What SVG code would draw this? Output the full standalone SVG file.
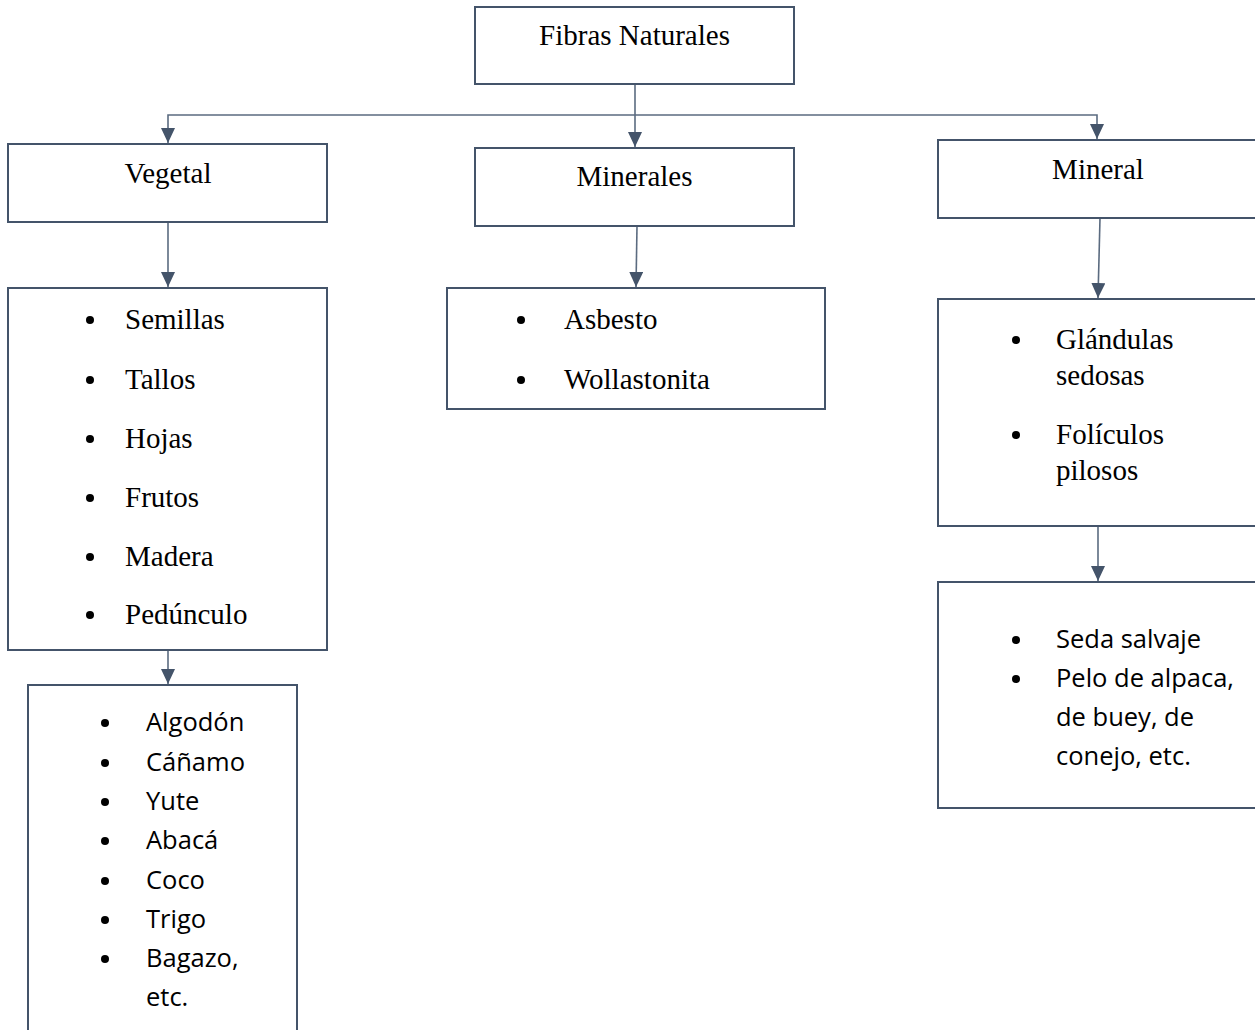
<svg xmlns="http://www.w3.org/2000/svg" width="1255" height="1030" viewBox="0 0 1255 1030">
<defs>
<style>
.box{fill:#fff;stroke:#44546A;stroke-width:2}
.t{font-family:"Liberation Serif","Times New Roman",serif;font-size:29px;fill:#000}
.c{font-family:"Open Sans","Liberation Sans",sans-serif;font-size:25.5px;fill:#000}
.con{fill:none;stroke:#5B6B80;stroke-width:1.6}
.dot{fill:#000}
</style>
<marker id="ah" viewBox="0 0 15 14" refX="15" refY="7" markerWidth="15" markerHeight="14" markerUnits="userSpaceOnUse" orient="auto">
<path d="M0,0 L15,7 L0,14 Z" fill="#44546A"/>
</marker>
</defs>
<rect width="1255" height="1030" fill="#fff"/>
<g id="connectors">
<path class="con" d="M635,84 V147" marker-end="url(#ah)"/>
<path class="con" d="M635,115 H168 V143" marker-end="url(#ah)"/>
<path class="con" d="M635,115 H1097 V139" marker-end="url(#ah)"/>
<path class="con" d="M168,222 V287" marker-end="url(#ah)"/>
<path class="con" d="M637,226 L636,287" marker-end="url(#ah)"/>
<path class="con" d="M1100,218 L1098,298" marker-end="url(#ah)"/>
<path class="con" d="M168,650 V684" marker-end="url(#ah)"/>
<path class="con" d="M1098,526 V581" marker-end="url(#ah)"/>
</g>
<g id="fibras">
<rect class="box" x="475" y="7" width="319" height="77"/>
<text class="t" x="634.5" y="45" text-anchor="middle">Fibras Naturales</text>
</g>
<g id="vegetal">
<rect class="box" x="8" y="144" width="319" height="78"/>
<text class="t" x="168" y="183" text-anchor="middle">Vegetal</text>
</g>
<g id="minerales">
<rect class="box" x="475" y="148" width="319" height="78"/>
<text class="t" x="634.5" y="186" text-anchor="middle">Minerales</text>
</g>
<g id="mineral">
<rect class="box" x="938" y="140" width="330" height="78"/>
<text class="t" x="1098" y="179" text-anchor="middle">Mineral</text>
</g>
<g id="vegetal-partes">
<rect class="box" x="8" y="288" width="319" height="362"/>
<circle class="dot" cx="90" cy="320" r="4"/><text class="t" x="125" y="329">Semillas</text>
<circle class="dot" cx="90" cy="380" r="4"/><text class="t" x="125" y="389">Tallos</text>
<circle class="dot" cx="90" cy="439" r="4"/><text class="t" x="125" y="448">Hojas</text>
<circle class="dot" cx="90" cy="498" r="4"/><text class="t" x="125" y="507">Frutos</text>
<circle class="dot" cx="90" cy="557" r="4"/><text class="t" x="125" y="566">Madera</text>
<circle class="dot" cx="90" cy="615" r="4"/><text class="t" x="125" y="624">Pedúnculo</text>
</g>
<g id="vegetal-ejemplos">
<rect class="box" x="28" y="685" width="269" height="360"/>
<circle class="dot" cx="105" cy="723" r="4"/><text class="c" x="146" y="731">Algodón</text>
<circle class="dot" cx="105" cy="763" r="4"/><text class="c" x="146" y="771">Cáñamo</text>
<circle class="dot" cx="105" cy="802" r="4"/><text class="c" x="146" y="810">Yute</text>
<circle class="dot" cx="105" cy="841" r="4"/><text class="c" x="146" y="849">Abacá</text>
<circle class="dot" cx="105" cy="881" r="4"/><text class="c" x="146" y="889">Coco</text>
<circle class="dot" cx="105" cy="920" r="4"/><text class="c" x="146" y="928">Trigo</text>
<circle class="dot" cx="105" cy="959" r="4"/><text class="c" x="146" y="967">Bagazo,</text>
<text class="c" x="146" y="1006">etc.</text>
</g>
<g id="minerales-ejemplos">
<rect class="box" x="447" y="288" width="378" height="121"/>
<circle class="dot" cx="521" cy="320" r="4"/><text class="t" x="564" y="329">Asbesto</text>
<circle class="dot" cx="521" cy="380" r="4"/><text class="t" x="564" y="389">Wollastonita</text>
</g>
<g id="mineral-origen">
<rect class="box" x="938" y="299" width="330" height="227"/>
<circle class="dot" cx="1016" cy="340" r="4"/><text class="t" x="1056" y="349">Glándulas</text>
<text class="t" x="1056" y="385">sedosas</text>
<circle class="dot" cx="1016" cy="435" r="4"/><text class="t" x="1056" y="444">Folículos</text>
<text class="t" x="1056" y="480">pilosos</text>
</g>
<g id="mineral-ejemplos">
<rect class="box" x="938" y="582" width="330" height="226"/>
<circle class="dot" cx="1016" cy="640" r="4"/><text class="c" x="1056" y="648">Seda salvaje</text>
<circle class="dot" cx="1016" cy="679" r="4"/><text class="c" x="1056" y="687">Pelo de alpaca,</text>
<text class="c" x="1056" y="726">de buey, de</text>
<text class="c" x="1056" y="765">conejo, etc.</text>
</g>
</svg>
